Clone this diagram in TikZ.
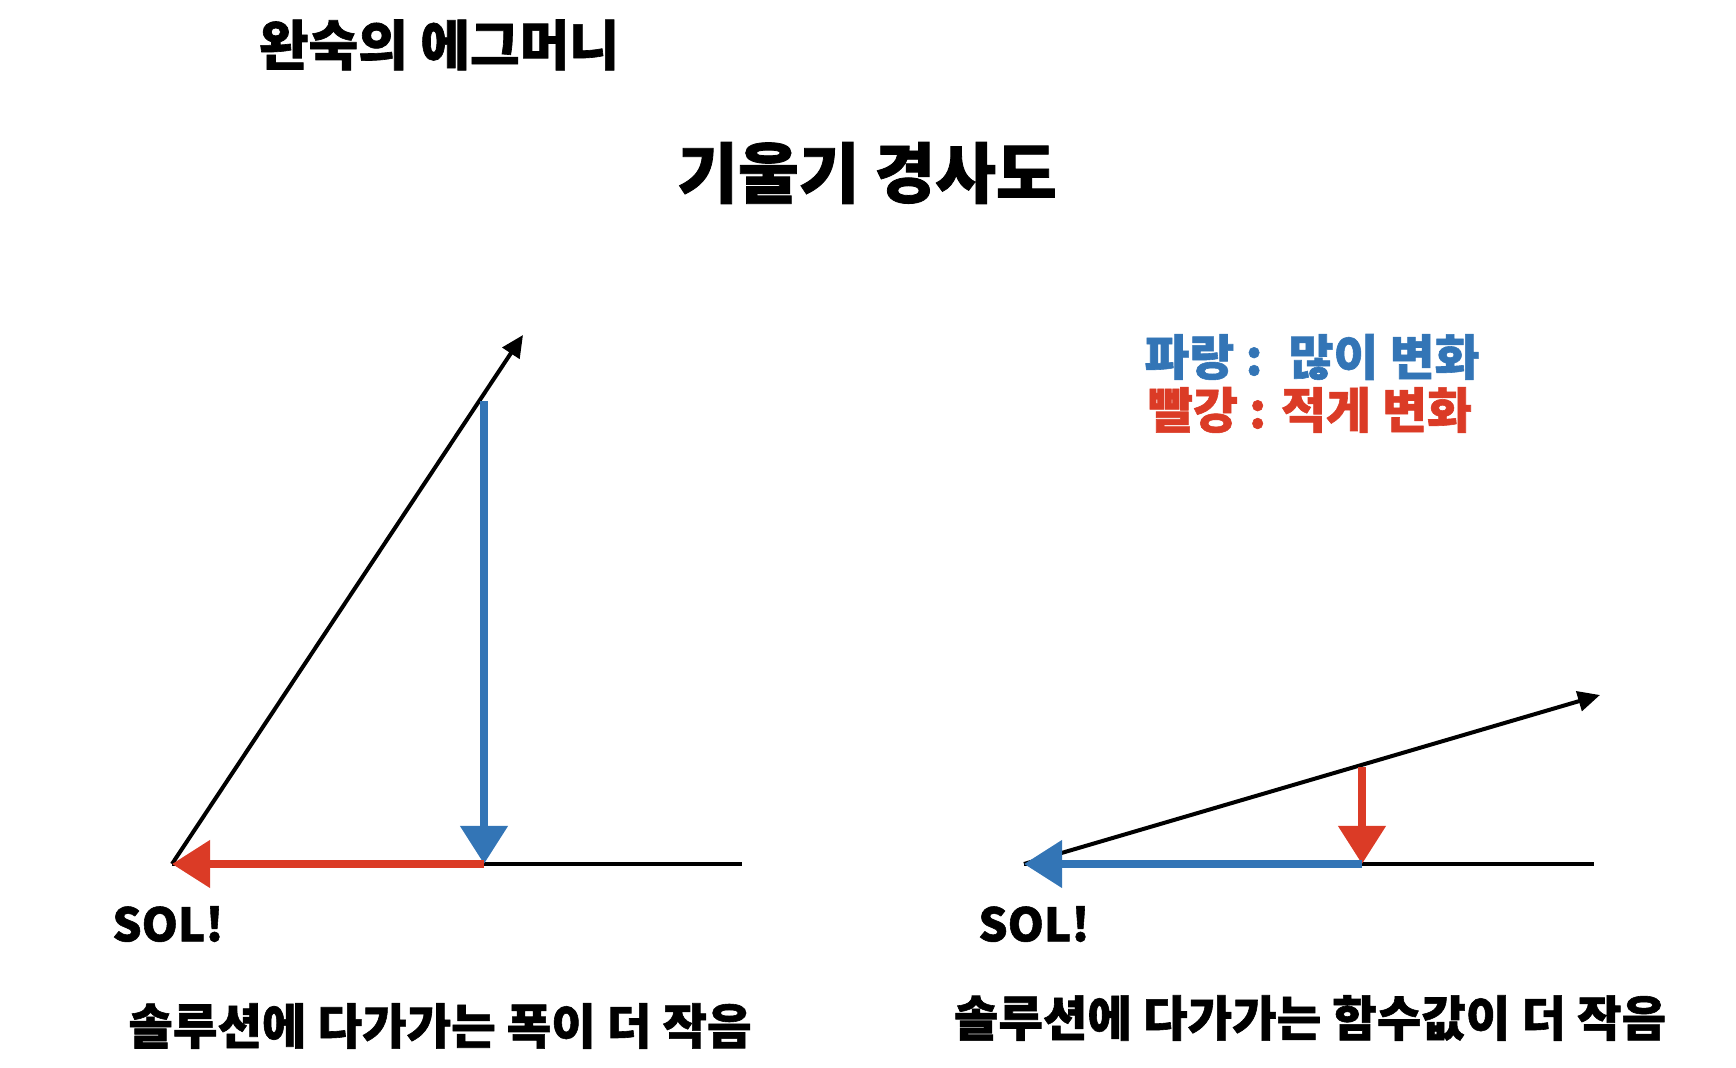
\documentclass[tikz,border=0pt]{standalone}
\usepackage{fontspec}
\setmainfont{Noto Sans CJK KR}[BoldFeatures={FakeBold=1.2}]
\usetikzlibrary{arrows.meta}
\definecolor{myblue}{HTML}{3375B6}
\definecolor{myred}{HTML}{DB3B26}
\tikzset{
  blackarrow/.style={line width=2pt, -{Triangle[length=11pt,width=10pt]}},
  baseline/.style={line width=2pt},
  chalk/.style={line width=3.8pt, -{Triangle[length=19pt,width=23pt]}},
  lbl/.style={inner sep=0pt, font=\bfseries},
}
\begin{document}
\begin{tikzpicture}[x=0.5pt,y=-0.5pt]
\useasboundingbox (0,0) rectangle (1736,1068);
% titles
\node[lbl, font=\bfseries\fontsize{27pt}{29pt}\selectfont] (t1) at (439,45) {완숙의 에그머니};
\node[lbl, font=\bfseries\fontsize{33pt}{35pt}\selectfont] (t2) at (867,173) {기울기 경사도};
% legend
\node[lbl, text=myblue, font=\bfseries\fontsize{24.4pt}{26pt}\selectfont] (lg1) at (1312,357) {파랑 :~ 많이 변화};
\node[lbl, text=myred, font=\bfseries\fontsize{24.4pt}{26pt}\selectfont] (lg2) at (1310,410) {빨강 : 적게 변화};
% left diagram
\coordinate (LO) at (172,864);
\coordinate (LT) at (523,335);
\coordinate (LB) at (484,401);
\coordinate (LF) at (484,864);
\coordinate (LE) at (742,864);
\draw[baseline] (LO) -- (LE);
\draw[blackarrow] (LO) -- (LT);
\draw[chalk, myblue] (LB) -- (LF);
\draw[chalk, myred] (LF) -- (LO);
% right diagram
\coordinate (RO) at (1024,864);
\coordinate (RT) at (1600,695);
\coordinate (RB) at (1362,767);
\coordinate (RF) at (1362,864);
\coordinate (RE) at (1594,864);
\draw[baseline] (RO) -- (RE);
\draw[blackarrow] (RO) -- (RT);
\draw[chalk, myred] (RB) -- (RF);
\draw[chalk, myblue] (RF) -- (RO);
% labels
\node[lbl, font=\bfseries\fontsize{23pt}{25pt}\selectfont] (sol1) at (168,924) {SOL!};
\node[lbl, font=\bfseries\fontsize{23pt}{25pt}\selectfont] (sol2) at (1034,924) {SOL!};
\node[lbl, font=\bfseries\fontsize{24.2pt}{26pt}\selectfont] (b1) at (440,1026) {솔루션에 다가가는 폭이 더 작음};
\node[lbl, font=\bfseries\fontsize{24.2pt}{26pt}\selectfont] (b2) at (1310,1018) {솔루션에 다가가는 함수값이 더 작음};
\end{tikzpicture}
\end{document}
